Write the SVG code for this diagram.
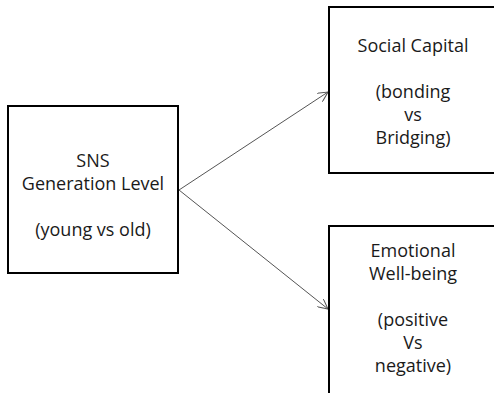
<svg xmlns="http://www.w3.org/2000/svg" width="494" height="393" viewBox="0 0 494 393">
<style>
.box{fill:#fff;stroke:#000;stroke-width:2}
.t{font-family:"Open Sans","Noto Sans",sans-serif;font-size:18px;fill:#1a1a1a;text-anchor:middle}
.c{stroke:#555;stroke-width:1;fill:none}
</style>
<defs>
<marker id="ah" viewBox="0 0 10 10" refX="10" refY="5" markerWidth="10" markerHeight="10" markerUnits="userSpaceOnUse" orient="auto">
<path d="M0,0 L10,5 L0,10" fill="none" stroke="#555" stroke-width="1"/>
</marker>
</defs>
<rect width="494" height="393" fill="#fff"/>
<g id="connectors">
<line class="c" x1="179" y1="190" x2="328" y2="92" marker-end="url(#ah)"/>
<line class="c" x1="179" y1="190" x2="328" y2="309" marker-end="url(#ah)"/>
</g>
<g id="sns">
<rect class="box" x="8" y="106" width="170" height="167"/>
<text class="t" x="93" y="167">SNS</text>
<text class="t" x="93" y="190">Generation Level</text>
<text class="t" x="93" y="236">(young vs old)</text>
</g>
<g id="social">
<rect class="box" x="329" y="7" width="168" height="166"/>
<text class="t" x="413" y="52">Social Capital</text>
<text class="t" x="413" y="98">(bonding</text>
<text class="t" x="413" y="121">vs</text>
<text class="t" x="413" y="144">Bridging)</text>
</g>
<g id="emotional">
<rect class="box" x="329" y="226" width="168" height="174"/>
<text class="t" x="413" y="257">Emotional</text>
<text class="t" x="413" y="280">Well-being</text>
<text class="t" x="413" y="326">(positive</text>
<text class="t" x="413" y="349">Vs</text>
<text class="t" x="413" y="372">negative)</text>
</g>
</svg>
